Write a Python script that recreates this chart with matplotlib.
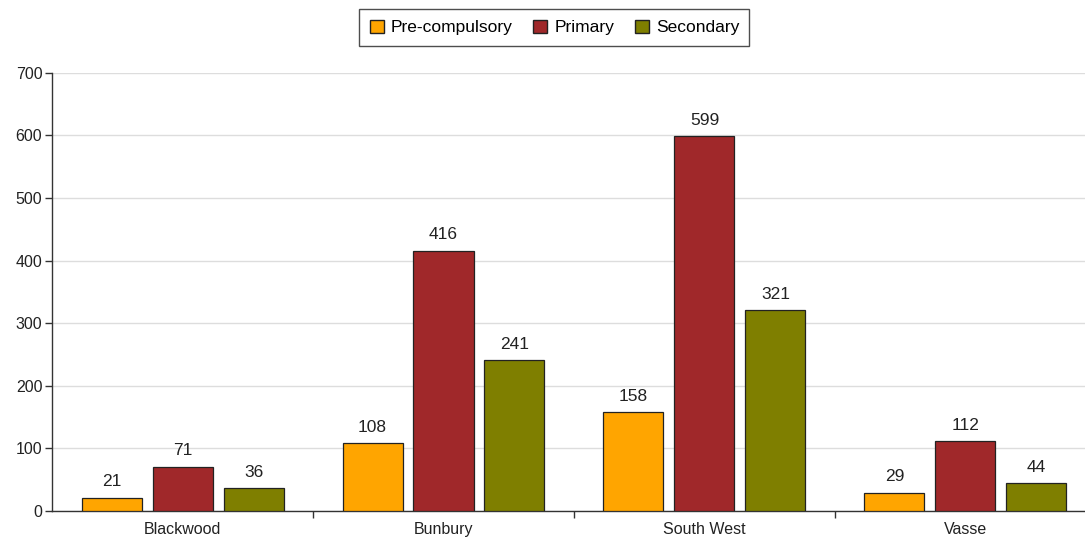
import numpy as np
import matplotlib.pyplot as plt
from matplotlib.patches import Patch

plt.rcParams['font.family'] = ['Liberation Sans', 'DejaVu Sans']

regions = ["Blackwood", "Bunbury", "South West", "Vasse"]
series_names = ["Pre-compulsory", "Primary", "Secondary"]
pre_compulsory = [21, 108, 158, 29]
primary = [71, 416, 599, 112]
secondary = [36, 241, 321, 44]

colors = ["#FFA500", "#A0282A", "#7F7F00"]

fig = plt.figure(figsize=(10.85, 5.41), dpi=100)
# plot area runs a little past the right edge, as in the original
ax = fig.add_axes([0.048, 0.0555, 0.962, 0.81])

x = np.arange(len(regions))
width = 0.23
offset = 0.272
for k, (vals, c) in enumerate(zip([pre_compulsory, primary, secondary], colors)):
    bars = ax.bar(x + (k - 1) * offset, vals, width, color=c, edgecolor="#222222",
                  linewidth=0.9, zorder=3)
    for b, v in zip(bars, vals):
        ax.annotate(str(v), (b.get_x() + b.get_width() / 2, v), xytext=(0, 6),
                    textcoords="offset points", ha="center", va="bottom",
                    fontsize=12.5, color="#222222")

ax.set_xlim(-0.5, len(regions) - 0.5)
ax.set_ylim(0, 700)
ax.set_yticks(range(0, 701, 100))
ax.set_xticks(x)
ax.set_xticklabels(regions)
ax.set_xticks(np.arange(0.5, len(regions) - 0.5, 1), minor=True)
ax.tick_params(axis="x", which="major", length=0, pad=8, labelsize=11.5, labelcolor="#222222")
ax.tick_params(axis="x", which="minor", length=5, width=1, color="#333333", direction="out")
ax.tick_params(axis="y", length=5, width=1, color="#333333", labelsize=11.5, labelcolor="#222222", pad=2)
ax.grid(axis="y", color="#dddddd", linewidth=1, zorder=0)
for s in ["top", "right"]:
    ax.spines[s].set_visible(False)
for s in ["left", "bottom"]:
    ax.spines[s].set_color("#333333")
    ax.spines[s].set_linewidth(1)

handles = [Patch(facecolor=c, edgecolor="#222222", label=n) for c, n in zip(colors, series_names)]
fig.legend(handles=handles, loc="upper center", bbox_to_anchor=(0.511, 0.999), ncol=3,
           frameon=True, fancybox=False, edgecolor="#222222", fontsize=12.5,
           handlelength=0.8, handleheight=0.8, handletextpad=0.4, columnspacing=1.2,
           borderpad=0.6)

fig.savefig("out.png", dpi=100)
